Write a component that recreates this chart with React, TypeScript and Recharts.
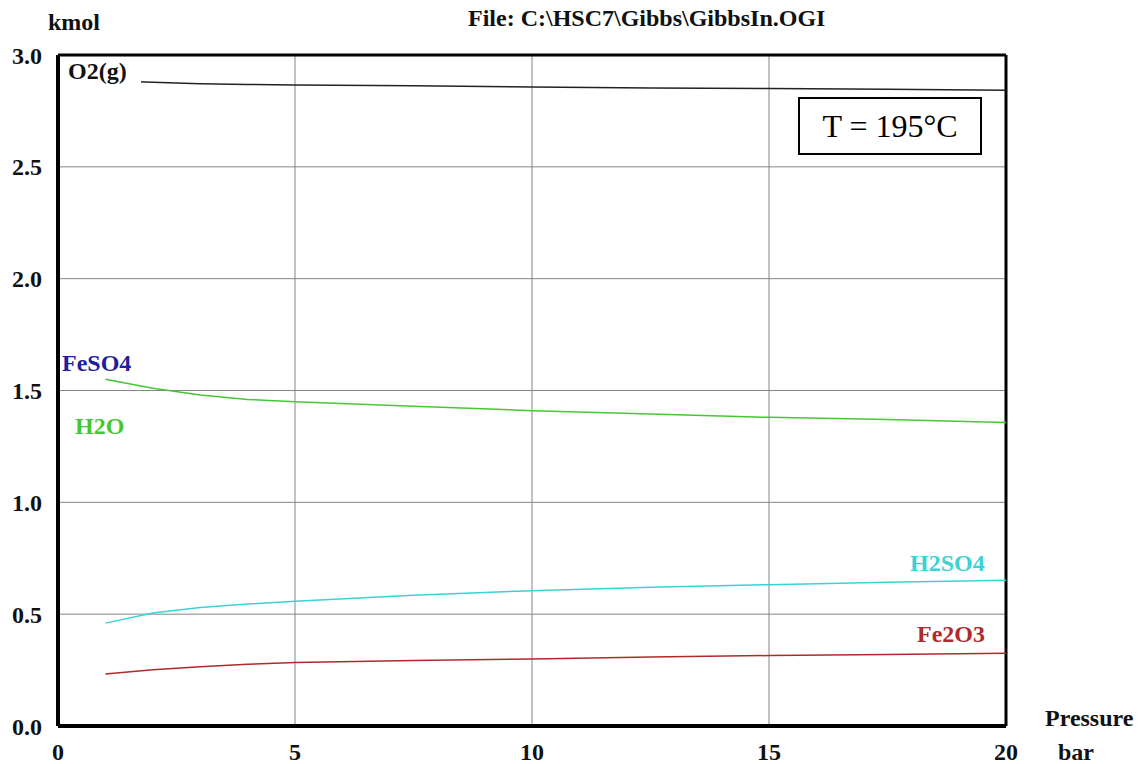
import React from "react";
import {
  LineChart,
  Line,
  XAxis,
  YAxis,
  CartesianGrid,
  ReferenceLine,
} from "recharts";

const pressure = [1, 2, 3, 4, 5, 7.5, 10, 12.5, 15, 17.5, 20];
const o2 = [2.885, 2.878, 2.872, 2.868, 2.866, 2.862, 2.857, 2.853, 2.85, 2.847, 2.842];
const h2o = [1.55, 1.51, 1.48, 1.46, 1.45, 1.43, 1.41, 1.395, 1.38, 1.37, 1.357];
const h2so4 = [0.46, 0.505, 0.53, 0.545, 0.558, 0.585, 0.605, 0.62, 0.632, 0.643, 0.652];
const fe2o3 = [0.232, 0.252, 0.265, 0.276, 0.284, 0.293, 0.3, 0.308, 0.315, 0.32, 0.325];

const xTicks = [0, 5, 10, 15, 20];
const yTicks = [0, 0.5, 1, 1.5, 2, 2.5, 3];

const data = pressure.map((p, i) => ({
  p,
  o2: o2[i],
  h2o: h2o[i],
  h2so4: h2so4[i],
  fe2o3: fe2o3[i],
}));

const font = "'Liberation Serif', 'Times New Roman', serif";

const label = (
  text: string,
  left: number,
  top: number,
  color: string,
  extra: React.CSSProperties = {}
) => (
  <div
    style={{
      position: "absolute",
      left,
      top,
      color,
      fontFamily: font,
      fontWeight: "bold",
      fontSize: 24,
      lineHeight: 1,
      whiteSpace: "nowrap",
      ...extra,
    }}
  >
    {text}
  </div>
);

export default function App() {
  const tickStyle = {
    fontFamily: font,
    fontWeight: "bold" as const,
    fontSize: 24,
    fill: "#111",
  };
  return (
    <div
      style={{
        position: "absolute",
        left: 0,
        top: 0,
        width: 1143,
        height: 764,
        background: "#fff",
      }}
    >
      <LineChart
        width={1143}
        height={764}
        data={data}
        margin={{ top: 55, right: 137, bottom: 0, left: 0 }}
      >
        <CartesianGrid
          stroke="#858585"
          strokeWidth={1}
          horizontalValues={yTicks}
          verticalValues={xTicks}
        />
        <XAxis
          dataKey="p"
          type="number"
          domain={[0, 20]}
          ticks={xTicks}
          tickLine={false}
          axisLine={{ stroke: "#000", strokeWidth: 4 }}
          tick={tickStyle}
          tickMargin={11}
          height={38}
        />
        <YAxis
          type="number"
          domain={[0, 3]}
          ticks={yTicks}
          tickFormatter={(v) => Number(v).toFixed(1)}
          tickLine={false}
          axisLine={{ stroke: "#000", strokeWidth: 4 }}
          tick={tickStyle}
          tickMargin={10}
          width={58}
        />
        <ReferenceLine y={3} stroke="#000" strokeWidth={3} />
        <ReferenceLine x={20} stroke="#000" strokeWidth={3} />
        <Line
          type="linear"
          dataKey="o2"
          stroke="#222"
          strokeWidth={1.5}
          dot={false}
          isAnimationActive={false}
        />
        <Line
          type="linear"
          dataKey="h2o"
          stroke="#44c832"
          strokeWidth={1.5}
          dot={false}
          isAnimationActive={false}
        />
        <Line
          type="linear"
          dataKey="h2so4"
          stroke="#3cd2d2"
          strokeWidth={1.5}
          dot={false}
          isAnimationActive={false}
        />
        <Line
          type="linear"
          dataKey="fe2o3"
          stroke="#b02a2a"
          strokeWidth={1.5}
          dot={false}
          isAnimationActive={false}
        />
      </LineChart>
      {label("kmol", 48, 10, "#111")}
      {label("File: C:\\HSC7\\Gibbs\\GibbsIn.OGI", 468, 6, "#111")}
      {label("O2(g)", 68, 59, "#111", {
        background: "#fff",
        paddingRight: 14,
        paddingBottom: 6,
      })}
      {label("FeSO4", 62, 351, "#1e1e9e")}
      {label("H2O", 75, 414, "#44c832")}
      {label("H2SO4", 910, 551, "#3cd2d2")}
      {label("Fe2O3", 917, 622, "#b02a2a")}
      {label("Pressure", 1045, 706, "#111")}
      {label("bar", 1058, 740, "#111")}
      <div
        style={{
          position: "absolute",
          left: 798,
          top: 97,
          width: 180,
          height: 54,
          border: "2px solid #000",
          background: "#fff",
          display: "flex",
          alignItems: "center",
          justifyContent: "center",
          fontFamily: font,
          fontSize: 32,
          color: "#000",
        }}
      >
        T = 195°C
      </div>
    </div>
  );
}
